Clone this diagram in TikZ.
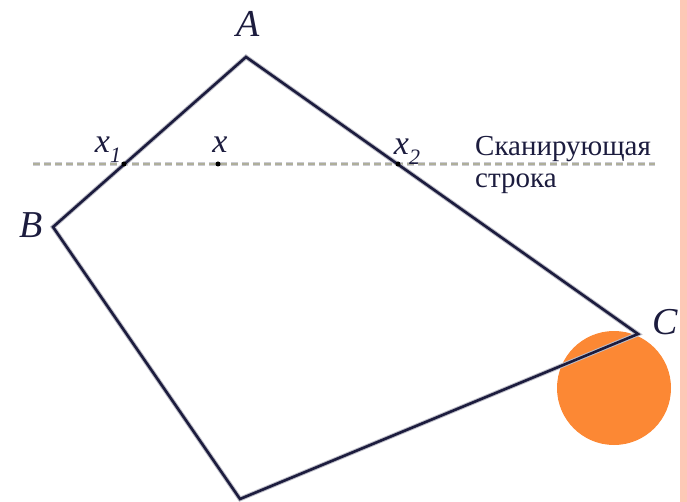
\documentclass[tikz,border=0pt]{standalone}
\usepackage{fontspec}
\setmainfont{Liberation Serif}
\definecolor{navy}{RGB}{28,28,62}
\definecolor{halo}{RGB}{190,190,200}
\definecolor{scan}{RGB}{175,175,155}
\definecolor{orng}{RGB}{252,136,52}
\definecolor{pinkstrip}{RGB}{253,200,182}
\tikzset{
  edge/.style={draw=navy,line width=2.6pt,line join=miter,preaction={draw=halo,line width=4.6pt}},
  scanline/.style={draw=scan,line width=2pt,dash pattern=on 7pt off 4pt,preaction={draw=halo!80,line width=3.2pt,dash pattern=on 7pt off 4pt}},
  lbl/.style={font=\fontsize{38}{38}\selectfont\itshape,text=navy,inner sep=0pt,anchor=base},
  xlbl/.style={font=\fontsize{34}{34}\selectfont\itshape,text=navy,inner sep=0pt,anchor=base},
  txt/.style={font=\fontsize{29}{32}\selectfont,text=navy,inner sep=0pt,anchor=base west},
  pt/.style={circle,fill=black,inner sep=0pt,minimum size=5pt}
}
\begin{document}
\begin{tikzpicture}[x=1pt,y=-1pt]
\useasboundingbox (0,0) rectangle (687,502);
\fill[pinkstrip] (680,0) rectangle (687,502);
% scan line
\coordinate (sL) at (33,164);
\coordinate (sR) at (655,164);
\draw[scanline] (sL) -- (sR);
% orange circle
\fill[orng] (614,388) circle (57);
% polygon
\coordinate (A) at (246,57);
\coordinate (B) at (53,227);
\coordinate (D) at (240,499);
\coordinate (C) at (638,334);
\draw[edge] (A) -- (B) -- (D) -- (C) -- cycle;
% points on scan line
\node[pt] (p1) at (124,164) {};
\node[pt] (p) at (218,164) {};
\node[pt] (p2) at (398,164) {};
% labels
\node[lbl] (lA) at (248,37) {A};
\node[lbl] (lB) at (31,238) {B};
\node[lbl] (lC) at (665,334) {C};
\node[xlbl] (lx1) at (108,153) {x\raisebox{-0.28em}{\fontsize{22}{22}\selectfont 1}};
\node[xlbl] (lx) at (220,153) {x};
\node[xlbl] (lx2) at (407,155) {x\raisebox{-0.28em}{\fontsize{22}{22}\selectfont 2}};
\node[txt] (t1) at (475,156) {Сканирующая};
\node[txt] (t2) at (475,188) {строка};
\end{tikzpicture}
\end{document}
